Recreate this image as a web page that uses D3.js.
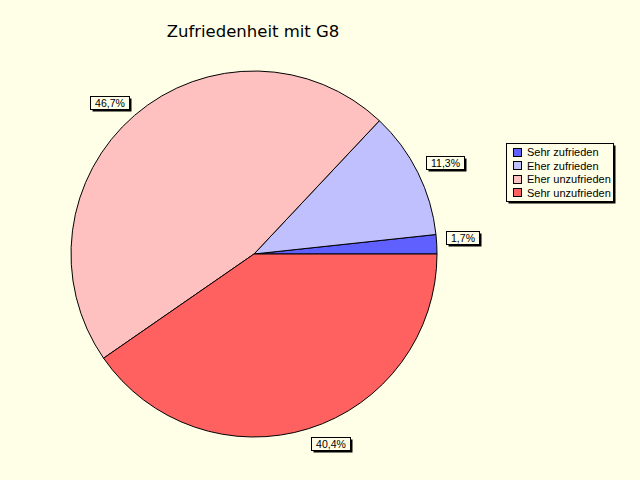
<!DOCTYPE html>
<html><head><meta charset="utf-8">
<script src="https://cdn.jsdelivr.net/npm/d3@7"></script>
<style>html,body{margin:0;padding:0;background:#FFFFE7;}svg{display:block;}</style>
</head><body>
<svg id="c" width="640" height="480"></svg>
<script>
const categories = ["Sehr zufrieden", "Eher zufrieden", "Eher unzufrieden", "Sehr unzufrieden"];
const values = [1.7, 11.3, 46.7, 40.4];
const labels = ["1,7%", "11,3%", "46,7%", "40,4%"];
const colors = ["#6060FF", "#C0C0FF", "#FFC0C0", "#FF6060"];
const title = "Zufriedenheit mit G8";

const svg = d3.select("#c");
const bg = "#FFFFE7";
svg.append("rect").attr("width",640).attr("height",480).attr("fill",bg);

svg.append("text").attr("x",253).attr("y",37).attr("text-anchor","middle")
  .attr("font-family","DejaVu Sans").attr("font-size",16.5).attr("fill","#000").text(title);

const cx = 254, cy = 254, R = 183;
const g = svg.append("g").attr("transform",`translate(${cx},${cy})`);
const pie = d3.pie().sort(null).value(d=>d).startAngle(Math.PI/2).endAngle(Math.PI/2 - 2*Math.PI);
const arcs = pie(values);
const arc = d3.arc().innerRadius(0).outerRadius(R);
g.selectAll("path").data(arcs).join("path")
  .attr("d",arc).attr("fill",(d,i)=>colors[i]).attr("stroke","#000").attr("stroke-width",1);

// labels
const LR = 192;
const font = "Liberation Sans";
arcs.forEach((d,i)=>{
  const a = (d.startAngle + d.endAngle)/2;
  const ax = cx + LR*Math.sin(a), ay = cy - LR*Math.cos(a);
  const t = svg.append("text").attr("font-family",font).attr("font-size",10.5).text(labels[i]);
  const w = Math.round(t.node().getComputedTextLength() + 9);
  const h = 13;
  const bx = Math.round(Math.sin(a) >= 0 ? ax : ax - w);
  const by = Math.round(-Math.cos(a) <= 0 ? ay - h : ay);
  svg.insert("rect", () => t.node()).attr("x",bx+2.5).attr("y",by+2.5).attr("width",w).attr("height",h).attr("fill","#000");
  svg.insert("rect", () => t.node()).attr("x",bx+0.5).attr("y",by+0.5).attr("width",w).attr("height",h).attr("fill",bg).attr("stroke","#000");
  t.attr("x",bx+0.5+w/2).attr("y",by+h-2.5).attr("text-anchor","middle");
});

// legend
const lx = 506, ly = 143, lw = 107, lh = 58;
svg.append("rect").attr("x",lx+2.5).attr("y",ly+2.5).attr("width",lw).attr("height",lh).attr("fill","#000");
svg.append("rect").attr("x",lx+0.5).attr("y",ly+0.5).attr("width",lw).attr("height",lh).attr("fill",bg).attr("stroke","#000");
categories.forEach((c,i)=>{
  const yc = ly + 9 + i*13.5;
  svg.append("rect").attr("x",513.5).attr("y",Math.round(yc-4.5)+0.5).attr("width",8).attr("height",8)
    .attr("fill",colors[i]).attr("stroke","#000");
  svg.append("text").attr("x",527).attr("y",yc+4).attr("font-family",font).attr("font-size",11).text(c);
});
</script>
</body></html>
